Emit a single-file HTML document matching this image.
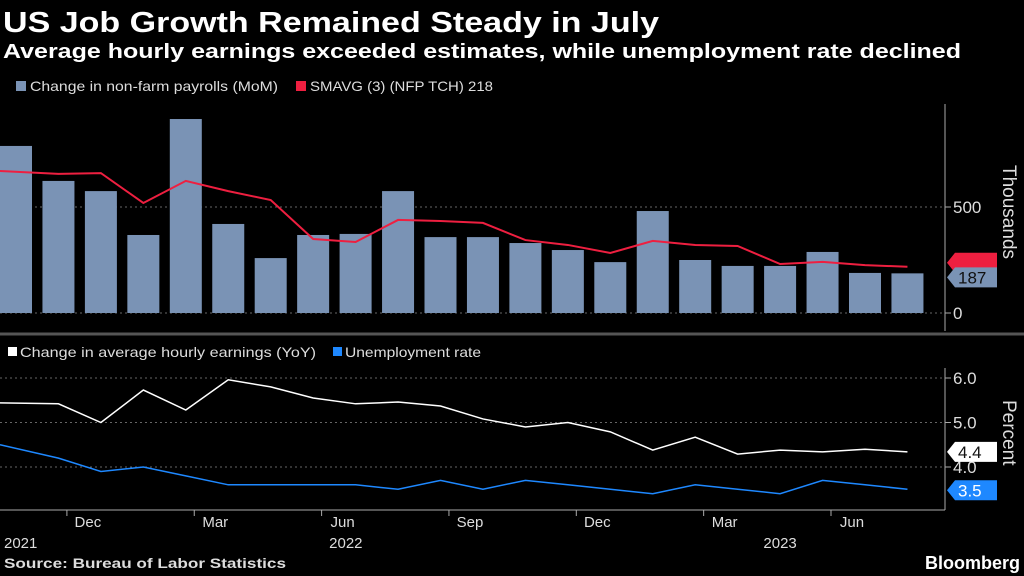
<!DOCTYPE html>
<html><head><meta charset="utf-8"><style>
body{margin:0;background:#000;width:1024px;height:576px;overflow:hidden;font-family:"Liberation Sans","DejaVu Sans",sans-serif;color:#fff}
svg{position:absolute;left:0;top:0}
</style></head><body>
<svg width="1024" height="576">
<text x="3" y="32" font-size="29" font-weight="bold" fill="#fff" textLength="656" lengthAdjust="spacingAndGlyphs">US Job Growth Remained Steady in July</text>
<text x="3" y="58" font-size="20" font-weight="bold" fill="#fff" textLength="958" lengthAdjust="spacingAndGlyphs">Average hourly earnings exceeded estimates, while unemployment rate declined</text>
<g>
<rect x="16" y="81" width="10" height="10" fill="#7a93b5"/>
<text x="30" y="91" font-size="14" fill="#ddd" textLength="248" lengthAdjust="spacingAndGlyphs">Change in non-farm payrolls (MoM)</text>
<rect x="296" y="81" width="10" height="10" fill="#ee1f40"/>
<text x="310" y="91" font-size="14" fill="#ddd" textLength="183" lengthAdjust="spacingAndGlyphs">SMAVG (3) (NFP TCH) 218</text>
</g>
<g>
<rect x="8" y="347" width="9" height="9" fill="#fff"/>
<text x="20" y="357" font-size="14" fill="#ddd" textLength="296" lengthAdjust="spacingAndGlyphs">Change in average hourly earnings (YoY)</text>
<rect x="333" y="347" width="9" height="9" fill="#1e88ff"/>
<text x="345" y="357" font-size="14" fill="#ddd" textLength="136" lengthAdjust="spacingAndGlyphs">Unemployment rate</text>
</g>
<line x1="0" y1="334" x2="1024" y2="334" stroke="#555" stroke-width="3"/>
<line x1="945" y1="104" x2="945" y2="331" stroke="#aaa"/>
<line x1="945" y1="368" x2="945" y2="510" stroke="#aaa"/>
<line x1="0" y1="510" x2="945" y2="510" stroke="#aaa"/>
<g id="gtop"></g><g id="gbot"></g><g id="gxa"></g>
<text transform="translate(1003,165) rotate(90)" font-size="19" fill="#ddd">Thousands</text>
<text transform="translate(1003,400) rotate(90)" font-size="19" fill="#ddd">Percent</text>
<text x="4" y="568" font-size="14" font-weight="bold" fill="#ddd" textLength="282" lengthAdjust="spacingAndGlyphs">Source: Bureau of Labor Statistics</text>
<text x="1020" y="569" font-size="18" font-weight="bold" fill="#fff" text-anchor="end">Bloomberg</text>
</svg>
<script>
const months=["Oct","Nov","Dec","Jan","Feb","Mar","Apr","May","Jun","Jul","Aug","Sep","Oct","Nov","Dec","Jan","Feb","Mar","Apr","May","Jun","Jul"];
const payrolls=[788,623,575,368,915,420,259,368,373,575,358,358,330,297,240,481,250,222,222,288,189,187];
const sma=[670,656,660,519,623,575,533,349,335,439,434,425,344,321,283,340,321,316,231,241,226,218];
const earnings=[5.44,5.42,5.0,5.73,5.28,5.96,5.8,5.55,5.42,5.46,5.37,5.08,4.9,5.0,4.79,4.38,4.67,4.29,4.38,4.34,4.4,4.34];
const unemp=[4.5,4.2,3.9,4.0,3.8,3.6,3.6,3.6,3.6,3.5,3.7,3.5,3.7,3.6,3.5,3.4,3.6,3.5,3.4,3.7,3.6,3.5];
const earnLabel="4.4";
const topTicks=[0,500];
const botTicks=[4.0,5.0,6.0];
const xLabels=[[2,"Dec"],[5,"Mar"],[8,"Jun"],[11,"Sep"],[14,"Dec"],[17,"Mar"],[20,"Jun"]];
const yearLabels=[[7.77,"2022"],[18,"2023"]];
const NS="http://www.w3.org/2000/svg";
function mk(p,t,a){const e=document.createElementNS(NS,t);for(const k in a)e.setAttribute(k,a[k]);p.appendChild(e);return e;}
const X=i=>16+i*42.45;
const Yt=v=>313-v*0.212;
const Yb=v=>378+(6-v)*44.5;
const gTop=document.getElementById('gtop'),gBot=document.getElementById('gbot'),gXa=document.getElementById('gxa');
topTicks.forEach(t=>{
 const l=mk(gTop,'line',{x1:0,x2:945,y1:Yt(t),y2:Yt(t),stroke:'#666','stroke-dasharray':'2,3'});
 
 
 mk(gTop,'line',{x1:945,x2:951,y1:Yt(t),y2:Yt(t),stroke:'#aaa'});
 const tx=mk(gTop,'text',{x:953,y:Yt(t)+6,'font-size':17,fill:'#ddd'});tx.textContent=t;
 
 
});
payrolls.forEach((v,i)=>{
 const r=mk(gTop,'rect',{x:X(i)-16,y:Yt(v),width:32,height:Yt(0)-Yt(v),fill:'#7a93b5'});
 
 
});
const sp=mk(gTop,'polyline',{points:sma.map((v,i)=>(i==0?0:X(i))+','+Yt(v)).join(' '),fill:'none',stroke:'#ee1f40','stroke-width':2});


function tag(p,y,txt,bg,fg,name){
 const g=mk(p,'g',{});
 
 
 mk(g,'path',{d:`M947 ${y} L955 ${y-10} L997 ${y-10} L997 ${y+10} L955 ${y+10} Z`,fill:bg});
 const t=mk(g,'text',{x:958,y:y+6,'font-size':17,fill:fg});t.textContent=txt;
}
tag(gTop,Yt(sma[21])-4,"218","#ee1f40","#ee1f40","sma-value-tag");
tag(gTop,Yt(payrolls[21])+4,payrolls[21],"#7a93b5","#111","payroll-value-tag");
botTicks.forEach(t=>{
 const l=mk(gBot,'line',{x1:0,x2:945,y1:Yb(t),y2:Yb(t),stroke:'#666','stroke-dasharray':'2,3'});
 
 
 mk(gBot,'line',{x1:945,x2:951,y1:Yb(t),y2:Yb(t),stroke:'#aaa'});
 const tx=mk(gBot,'text',{x:953,y:Yb(t)+6,'font-size':17,fill:'#ddd'});tx.textContent=t.toFixed(1);
 
 
});
const ep=mk(gBot,'polyline',{points:earnings.map((v,i)=>(i==0?0:X(i))+','+Yb(v)).join(' '),fill:'none',stroke:'#fff','stroke-width':1.5});


const up=mk(gBot,'polyline',{points:unemp.map((v,i)=>(i==0?0:X(i))+','+Yb(v)).join(' '),fill:'none',stroke:'#1e88ff','stroke-width':1.5});


tag(gBot,Yb(earnings[21]),earnLabel,"#fff","#111","earnings-value-tag");
tag(gBot,Yb(unemp[21])+1,unemp[21].toFixed(1),"#1e88ff","#fff","unemployment-value-tag");
xLabels.forEach(([i,l])=>{
 const t=mk(gXa,'text',{x:X(i)-13,y:527,'font-size':15,fill:'#ddd','text-anchor':'middle'});t.textContent=l;
 
 
 mk(gXa,'line',{x1:X(i)-34,x2:X(i)-34,y1:510,y2:516,stroke:'#aaa'});
});
const y0=mk(gXa,'text',{x:4,y:548,'font-size':15,fill:'#ddd'});y0.textContent="2021";


yearLabels.forEach(([i,l])=>{
 const t=mk(gXa,'text',{x:X(i),y:548,'font-size':15,fill:'#ddd','text-anchor':'middle'});t.textContent=l;
 
 
});
</script>
</body></html>
